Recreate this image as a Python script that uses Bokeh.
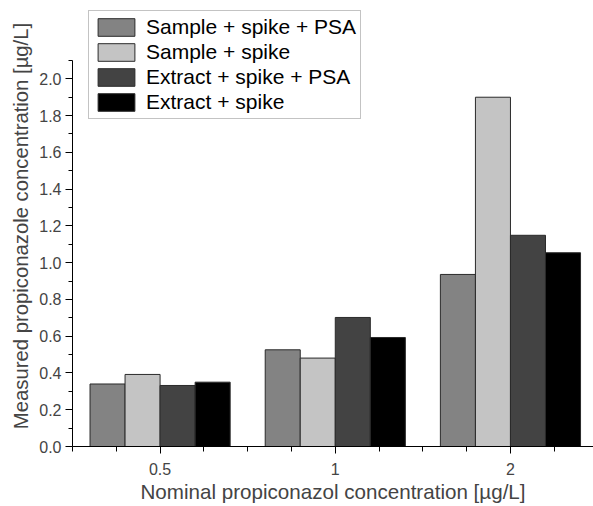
import numpy as np
from bokeh.plotting import figure
from bokeh.models import ColumnDataSource, FixedTicker, Range1d, Legend, LegendItem, NumeralTickFormatter
from bokeh.embed import file_html
from bokeh.resources import INLINE

categories = ["0.5", "1", "2"]
series_names = ["Sample + spike + PSA", "Sample + spike", "Extract + spike + PSA", "Extract + spike"]
sample_spike_psa = [0.34, 0.526, 0.936]
sample_spike = [0.392, 0.481, 1.90]
extract_spike_psa = [0.332, 0.702, 1.149]
extract_spike = [0.35, 0.593, 1.054]
series_values = [sample_spike_psa, sample_spike, extract_spike_psa, extract_spike]
colors = ["#838383", "#c4c4c4", "#434343", "#000000"]

y_major = [0.0, 0.2, 0.4, 0.6, 0.8, 1.0, 1.2, 1.4, 1.6, 1.8, 2.0]
y_minor = [0.1, 0.3, 0.5, 0.7, 0.9, 1.1, 1.3, 1.5, 1.7, 1.9, 2.1]

FONT = "Liberation Sans"

p = figure(width=593, height=506, output_backend="svg", toolbar_location=None,
           x_range=Range1d(-0.5, 2.474), y_range=Range1d(0, 2.399),
           min_border_left=72, min_border_right=0, min_border_top=5, min_border_bottom=60)
p.outline_line_color = None
p.xgrid.visible = False
p.ygrid.visible = False

idx = np.arange(len(categories))
width = 0.2
offsets = [-0.3, -0.1, 0.1, 0.3]
items = []
for name, vals, col, off in zip(series_names, series_values, colors, offsets):
    src = ColumnDataSource(dict(x=idx + off, top=vals))
    r = p.vbar(x="x", top="top", width=width, bottom=0, source=src,
               fill_color=col, line_color="#2a2a2a", line_width=1)
    items.append(LegendItem(label=name, renderers=[r]))

legend = Legend(items=items, location=(16, 327))
legend.label_text_font = FONT
legend.label_text_font_size = "21px"
legend.label_text_color = "#000000"
legend.glyph_width = 46
legend.glyph_height = 22
legend.label_height = 22
legend.spacing = 1
legend.padding = 4
legend.margin = 0
legend.label_standoff = 7
legend.border_line_color = "#888888"
legend.border_line_width = 1
legend.background_fill_alpha = 1
p.add_layout(legend, "center")

# x axis
xa = p.xaxis[0]
xa.ticker = FixedTicker(ticks=list(idx), minor_ticks=[-0.5, -0.25, 0.25, 0.5, 0.75, 1.25, 1.5, 1.75, 2.25])
xa.major_label_overrides = {int(i): c for i, c in zip(idx, categories)}
xa.axis_label = "Nominal propiconazol concentration [µg/L]"
xa.axis_label_text_font = FONT
xa.axis_label_text_font_size = "20.6px"
xa.axis_label_text_font_style = "normal"
xa.axis_label_standoff = 2
xa.major_label_text_font = FONT
xa.major_label_text_font_size = "16px"
xa.major_label_standoff = 9
xa.major_tick_out = 7
xa.major_tick_in = 0
xa.minor_tick_out = 5
xa.minor_tick_in = 0
xa.axis_line_color = "#000000"
xa.major_tick_line_color = "#000000"
xa.minor_tick_line_color = "#000000"

ya = p.yaxis[0]
ya.bounds = (0, 2.1)
ya.ticker = FixedTicker(ticks=y_major, minor_ticks=y_minor)
ya.formatter = NumeralTickFormatter(format="0.0")
ya.axis_label = "Measured propiconazole concentration [µg/L]"
ya.axis_label_text_font = FONT
ya.axis_label_text_font_size = "20.3px"
ya.axis_label_text_font_style = "normal"
ya.axis_label_standoff = 4
ya.major_label_text_font = FONT
ya.major_label_text_font_size = "16px"
ya.major_label_standoff = 4
ya.major_tick_out = 7
ya.major_tick_in = 0
ya.minor_tick_out = 4
ya.minor_tick_in = 0
ya.axis_line_color = "#000000"
ya.major_tick_line_color = "#000000"
ya.minor_tick_line_color = "#000000"

open("out.html", "w").write(file_html(p, INLINE))
